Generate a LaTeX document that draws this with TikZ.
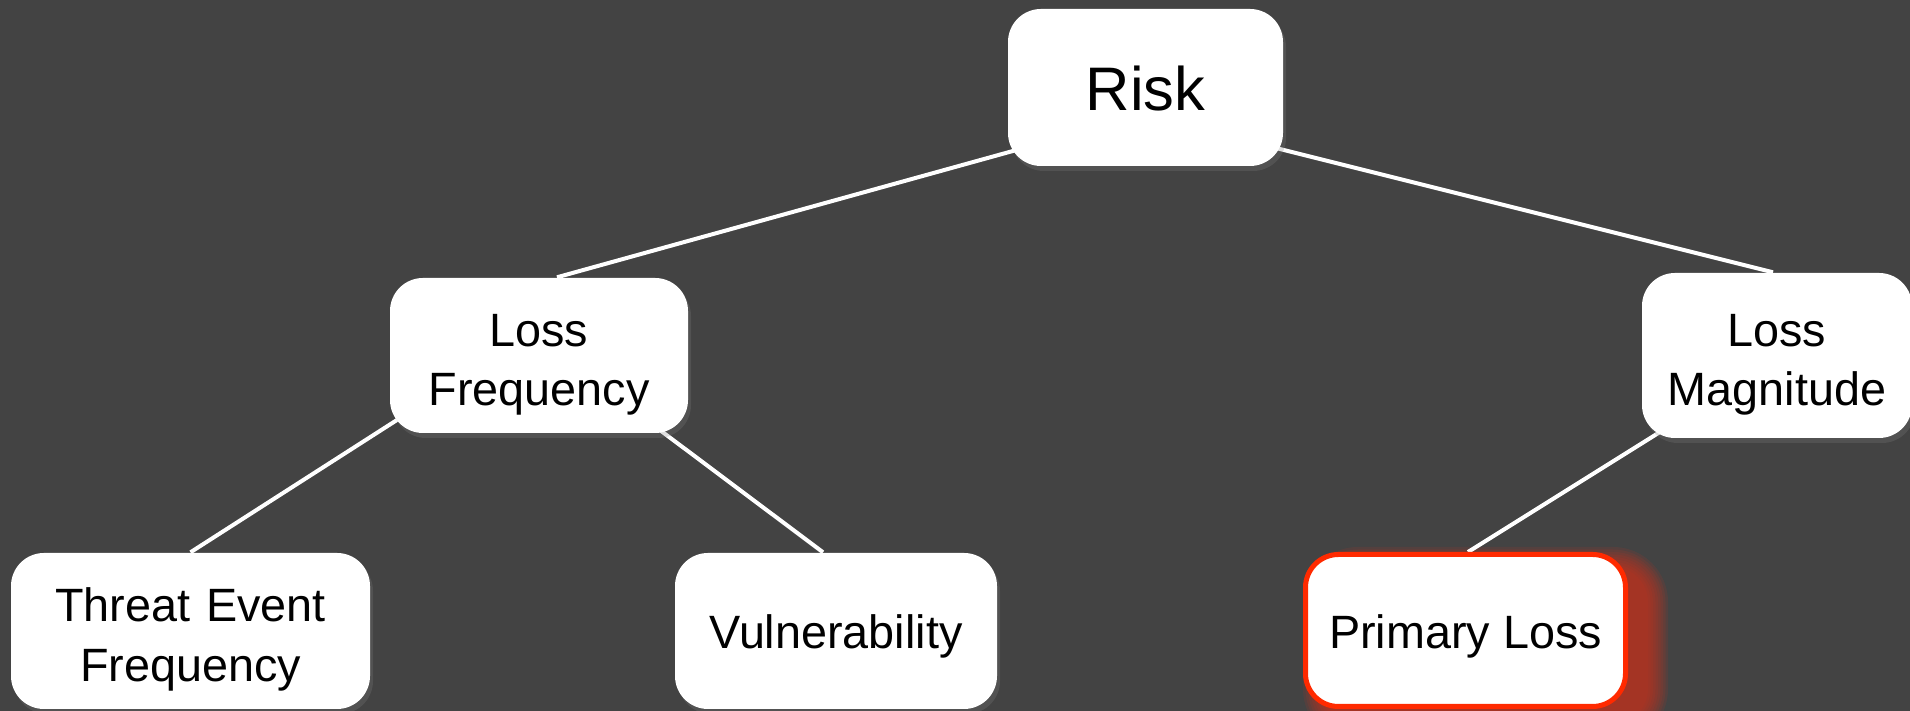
\documentclass[tikz,border=0pt]{standalone}
\usepackage{fontspec}
\setmainfont{Liberation Sans}
\usetikzlibrary{backgrounds,shadows}
\definecolor{slate}{HTML}{434343}
\definecolor{alertred}{HTML}{FF2A00}
\definecolor{glowred}{HTML}{D4301A}
\begin{document}
\begin{tikzpicture}[
  box/.style={fill=white, rounded corners=0.33cm, align=center, inner sep=0pt,
    font=\fontsize{13.3}{17}\selectfont, execute at begin node=\rule{0pt}{13pt},
    drop shadow={shadow xshift=0.03cm, shadow yshift=-0.05cm, opacity=0.25}},
  twolines/.style={text width=#1, execute at begin node=\rule{0pt}{14.5pt}},
  alertbox/.style={fill=white, draw=alertred, line width=0.05cm, rounded corners=0.33cm, align=center,
    inner sep=0pt, font=\fontsize{13.3}{17}\selectfont, execute at begin node=\rule{0pt}{13pt}},
  link/.style={white, line width=0.04cm}
]
  \useasboundingbox (0,0) rectangle (19.1,7.11);
  \begin{scope}[on background layer]
    \fill[slate] (0,0) rectangle (19.1,7.11);
  \end{scope}

  \node[box, minimum width=2.75cm, minimum height=1.57cm, font=\fontsize{17.5}{21}\selectfont] (risk) at (11.455,6.235) {Risk};
  \node[box, twolines=2.9cm, minimum width=2.98cm, minimum height=1.55cm] (lf) at (5.39,3.555) {Loss\\Frequency};
  \node[box, twolines=2.65cm, minimum width=2.70cm, minimum height=1.65cm] (lm) at (17.77,3.555) {Loss\\Magnitude};
  \node[box, twolines=3.5cm, minimum width=3.59cm, minimum height=1.56cm] (tef) at (1.905,0.80) {Threat Event\\Frequency};
  \node[box, minimum width=3.22cm, minimum height=1.56cm] (vul) at (8.36,0.80) {Vulnerability};
  \node[alertbox, minimum width=3.20cm, minimum height=1.52cm] (pl) at (14.655,0.805) {Primary Loss};

  \begin{scope}[on background layer]
    % red glow behind the highlighted box
    \foreach \g [evaluate=\g as \e using 0.025*\g] in {0,...,8}
      \fill[glowred, opacity=0.12, rounded corners={(0.35+\e)*1cm}]
        ([shift={(0.2-\e,-0.15-\e)}]pl.south west) rectangle ([shift={(0.2+\e,-0.15+\e)}]pl.north east);
    \draw[link] ([xshift=0.18cm]lf.north) -- ([shift={(0.32,0.23)}]risk.south west);
    \draw[link] ([xshift=-0.04cm]lm.north) -- ([shift={(-0.33,0.25)}]risk.south east);
    \draw[link] (tef.north) -- ([shift={(0.30,0.28)}]lf.south west);
    \draw[link] ([xshift=-0.13cm]vul.north) -- ([shift={(-0.48,0.18)}]lf.south east);
    \draw[link] ([xshift=0.025cm]pl.north) -- ([shift={(0.48,0.25)}]lm.south west);
  \end{scope}
\end{tikzpicture}
\end{document}
